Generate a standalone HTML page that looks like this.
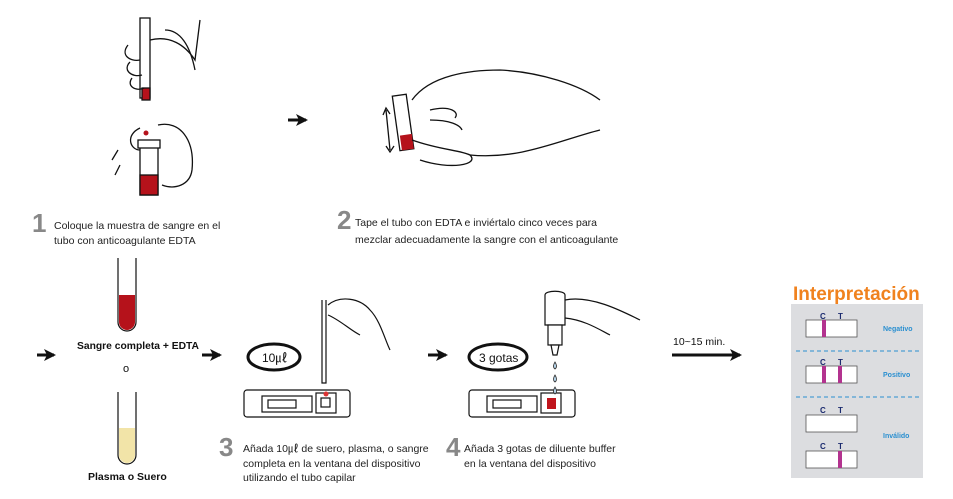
<!DOCTYPE html>
<html><head><meta charset="utf-8"><style>
body{margin:0;background:#fff;width:953px;height:499px;overflow:hidden;font-family:"Liberation Sans",sans-serif}
svg{display:block}
</style></head><body>
<svg width="953" height="499" viewBox="0 0 953 499" xmlns="http://www.w3.org/2000/svg" font-family="Liberation Sans, sans-serif">
<defs>
<marker id="ah" markerUnits="userSpaceOnUse" markerWidth="12" markerHeight="12" refX="10" refY="6" orient="auto"><path d="M0,0 L12,6 L0,12 L3,6z" fill="#111"/></marker>
</defs>
<!-- step 1 illustration -->
<g stroke="#111" stroke-width="1.3" fill="#fff">
<rect x="140" y="18" width="10" height="80"/>
<rect x="142" y="88" width="8" height="12" fill="#b5121b"/>
<path d="M150 40 C170 35 185 45 195 60 L200 20" fill="none"/>
<path d="M128 45 C120 55 130 62 140 60 M130 62 C122 70 132 78 142 75 M132 78 C126 86 136 92 144 88" fill="none"/>
<path d="M165 30 C180 30 190 45 195 70" fill="none"/>
<rect x="140" y="145" width="18" height="50" fill="#fff"/>
<rect x="140" y="175" width="18" height="20" fill="#b5121b"/>
<rect x="138" y="140" width="22" height="8"/>
<path d="M158 125 C180 120 195 140 192 170 C190 185 175 190 162 185" fill="none"/>
<path d="M140 128 C125 135 130 150 140 150" fill="none"/>
<path d="M118 150 L112 160 M120 165 L115 175" fill="none"/>
</g>
<circle cx="146" cy="133" r="2.5" fill="#b5121b"/>
<text x="32" y="232" font-size="26" font-weight="bold" fill="#888">1</text>
<text x="54" y="229" font-size="10.5" fill="#222">Coloque la muestra de sangre en el</text>
<text x="54" y="244" font-size="10.5" fill="#222">tubo con anticoagulante EDTA</text>
<line x1="288" y1="120" x2="306" y2="120" stroke="#111" stroke-width="3" marker-end="url(#ah)"/>
<!-- step 2 -->
<g stroke="#111" stroke-width="1.3" fill="none">
<rect x="396" y="95" width="14" height="55" fill="#fff" transform="rotate(-8 403 122)"/>
<rect x="398" y="135" width="12" height="15" fill="#b5121b" stroke="none" transform="rotate(-8 403 122)"/>
<path d="M386 110 L390 150 M383 115 L386 108 L390 114 M386 146 L390 152 L394 146"/>
<path d="M412 100 C430 75 470 70 500 70 C540 72 580 85 600 100"/>
<path d="M412 140 C440 150 460 150 470 155 C480 165 450 170 420 160"/>
<path d="M430 120 C450 120 460 125 462 130 M430 110 C450 105 460 112 455 118"/>
<path d="M470 155 C520 160 560 140 600 130"/>
</g>
<text x="337" y="229" font-size="26" font-weight="bold" fill="#888">2</text>
<text x="355" y="226" font-size="10.5" fill="#222">Tape el tubo con EDTA e inviértalo cinco veces para</text>
<text x="355" y="243" font-size="10.5" fill="#222">mezclar adecuadamente la sangre con el anticoagulante</text>
<!-- tubes -->
<g stroke="#111" stroke-width="1.2">
<path d="M118 258 L118 322 A9 9 0 0 0 136 322 L136 258" fill="#fff"/>
<path d="M119 295 L119 322 A8 8 0 0 0 135 322 L135 295z" fill="#b5121b" stroke="none"/>
<path d="M118 392 L118 455 A9 9 0 0 0 136 455 L136 392" fill="#fff"/>
<path d="M119 428 L119 455 A8 8 0 0 0 135 455 L135 428z" fill="#f2e4a8" stroke="none"/>
</g>
<text x="77" y="349" font-size="10.3" font-weight="bold" fill="#111">Sangre completa + EDTA</text>
<text x="123" y="372" font-size="11" fill="#111">o</text>
<text x="88" y="480" font-size="10.5" font-weight="bold" fill="#111">Plasma o Suero</text>
<line x1="37" y1="355" x2="54" y2="355" stroke="#111" stroke-width="3" marker-end="url(#ah)"/>
<line x1="202" y1="355" x2="220" y2="355" stroke="#111" stroke-width="3" marker-end="url(#ah)"/>
<line x1="428" y1="355" x2="446" y2="355" stroke="#111" stroke-width="3" marker-end="url(#ah)"/>
<line x1="672" y1="355" x2="740" y2="355" stroke="#111" stroke-width="3" marker-end="url(#ah)"/>
<text x="673" y="345" font-size="10.5" fill="#111">10~15 min.</text>
<!-- step 3 -->
<ellipse cx="274" cy="357" rx="26" ry="13" fill="#fff" stroke="#111" stroke-width="3"/>
<text x="262" y="362" font-size="12" fill="#111">10㎕</text>
<g stroke="#111" stroke-width="1.2" fill="#fff">
<rect x="244" y="390" width="106" height="27" rx="3"/>
<rect x="262" y="396" width="50" height="16"/>
<rect x="268" y="400" width="28" height="8"/>
<rect x="316" y="393" width="20" height="20"/>
<rect x="321" y="398" width="9" height="9"/>
<path d="M322 300 L322 383 L326 383 L326 300" />
<path d="M328 305 C340 295 360 298 370 310 C380 320 385 340 390 350 M328 315 C340 320 350 330 360 335"/>
</g>
<circle cx="326" cy="394" r="2.5" fill="#d33"/>
<text x="219" y="456" font-size="26" font-weight="bold" fill="#888">3</text>
<text x="243" y="452" font-size="10.5" fill="#222">Añada 10㎕ de suero, plasma, o sangre</text>
<text x="243" y="467" font-size="10.5" fill="#222">completa en la ventana del dispositivo</text>
<text x="243" y="481" font-size="10.5" fill="#222">utilizando el tubo capilar</text>
<!-- step 4 -->
<ellipse cx="498" cy="357" rx="29" ry="13" fill="#fff" stroke="#111" stroke-width="3"/>
<text x="479" y="362" font-size="12" fill="#111">3 gotas</text>
<g stroke="#111" stroke-width="1.2" fill="#fff">
<rect x="469" y="390" width="106" height="27" rx="3"/>
<rect x="487" y="396" width="50" height="16"/>
<rect x="493" y="400" width="28" height="8"/>
<rect x="541" y="393" width="20" height="20"/>
<path d="M545 295 C545 290 565 290 565 295 L565 325 L545 325z"/>
<rect x="548" y="325" width="14" height="20"/>
<path d="M551 345 L559 345 L557 355 L553 355z"/>
<path d="M565 300 C590 295 620 310 640 320 M565 318 C585 320 600 330 610 335"/>
</g>
<rect x="547" y="398" width="9" height="11" fill="#c0141c"/>
<g fill="#b9d8ee" stroke="#333" stroke-width="0.8">
<path d="M555 362 q-3 5 0 7 q3 -2 0 -7z"/><path d="M555 375 q-3 5 0 7 q3 -2 0 -7z"/><path d="M555 387 q-3 5 0 7 q3 -2 0 -7z"/>
</g>
<text x="446" y="456" font-size="26" font-weight="bold" fill="#888">4</text>
<text x="464" y="452" font-size="10.5" fill="#222">Añada 3 gotas de diluente buffer</text>
<text x="464" y="467" font-size="10.5" fill="#222">en la ventana del dispositivo</text>
<!-- interpretation -->
<text x="793" y="300" font-size="19" font-weight="bold" fill="#f0821e">Interpretación</text>
<rect x="791" y="304" width="132" height="174" fill="#dcdde0"/>
<g font-size="8" font-weight="bold" fill="#1a2a6e">
<text x="820" y="319">C</text><text x="838" y="319">T</text>
<text x="820" y="365">C</text><text x="838" y="365">T</text>
<text x="820" y="413">C</text><text x="838" y="413">T</text>
<text x="820" y="449">C</text><text x="838" y="449">T</text>
</g>
<g fill="#fff" stroke="#555" stroke-width="0.8">
<rect x="806" y="320" width="51" height="17"/>
<rect x="806" y="366" width="51" height="17"/>
<rect x="806" y="415" width="51" height="17"/>
<rect x="806" y="451" width="51" height="17"/>
</g>
<g fill="#b3338f">
<rect x="822" y="320" width="4" height="17"/>
<rect x="822" y="366" width="4" height="17"/><rect x="838" y="366" width="4" height="17"/>
<rect x="838" y="451" width="4" height="17"/>
</g>
<line x1="796" y1="351" x2="920" y2="351" stroke="#2a8fd0" stroke-dasharray="4,3"/>
<line x1="796" y1="397" x2="920" y2="397" stroke="#2a8fd0" stroke-dasharray="4,3"/>
<g font-size="7" font-weight="bold" fill="#2a8fd0">
<text x="883" y="331">Negativo</text><text x="883" y="377">Positivo</text><text x="883" y="438">Inválido</text>
</g>
</svg>
</body></html>
